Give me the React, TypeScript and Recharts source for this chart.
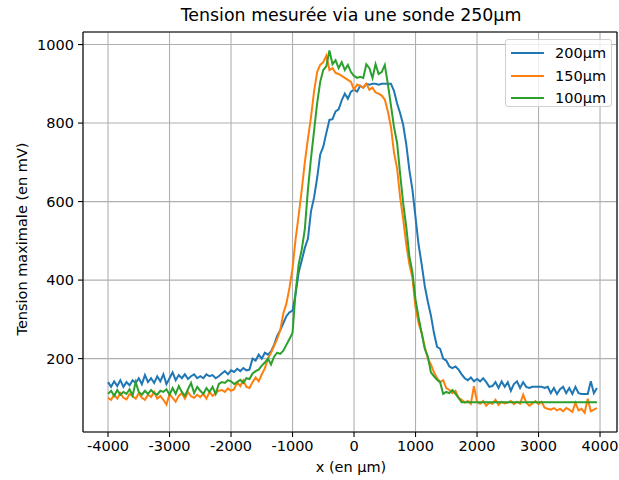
import React from 'react';
import { LineChart, Line, XAxis, YAxis, CartesianGrid, ReferenceLine } from 'recharts';

// positions (µm)
const POSITIONS = [
  -4000, -3950, -3900, -3850, -3800, -3750, -3700, -3650, -3600, -3550,
  -3500, -3450, -3400, -3350, -3300, -3250, -3200, -3150, -3100, -3050,
  -3000, -2950, -2900, -2850, -2800, -2750, -2700, -2650, -2600, -2550,
  -2500, -2450, -2400, -2350, -2300, -2250, -2200, -2150, -2100, -2050,
  -2000, -1950, -1900, -1850, -1800, -1750, -1700, -1650, -1600, -1550,
  -1500, -1450, -1400, -1350, -1300, -1250, -1200, -1150, -1100, -1050,
  -1000, -950, -900, -850, -800, -750, -700, -650, -600, -550,
  -500, -450, -400, -350, -300, -250, -200, -150, -100, -50,
  0, 50, 100, 150, 200, 250, 300, 350, 400, 450,
  500, 550, 600, 650, 700, 750, 800, 850, 900, 950,
  1000, 1050, 1100, 1150, 1200, 1250, 1300, 1350, 1400, 1450,
  1500, 1550, 1600, 1650, 1700, 1750, 1800, 1850, 1900, 1950,
  2000, 2050, 2100, 2150, 2200, 2250, 2300, 2350, 2400, 2450,
  2500, 2550, 2600, 2650, 2700, 2750, 2800, 2850, 2900, 2950,
  3000, 3050, 3100, 3150, 3200, 3250, 3300, 3350, 3400, 3450,
  3500, 3550, 3600, 3650, 3700, 3750, 3800, 3850, 3900, 3950,
];

const SONDE_200 = [
  140, 128, 142, 130, 145, 128, 140, 132, 145, 138,
  150, 135, 158, 140, 150, 138, 155, 142, 160, 135,
  150, 165, 145, 158, 150, 160, 148, 155, 160, 150,
  155, 150, 160, 155, 158, 150, 155, 162, 168, 160,
  170, 166, 174, 168, 176, 170, 172, 200, 195, 210,
  200, 215, 210, 218, 235, 258, 272, 290, 308, 318,
  322, 365, 420, 450, 482, 505, 575, 610, 660, 720,
  740, 775, 808, 810, 830, 835, 858, 875, 862, 880,
  885, 880, 895, 890, 900, 898, 900, 900, 898, 900,
  900, 900, 900, 882, 850, 825, 795, 745, 680, 630,
  560, 490, 440, 385, 345, 310, 265, 230, 225, 200,
  195, 180, 176, 180, 172, 160, 150, 145, 152, 142,
  148, 142, 150, 140, 128, 130, 140, 125, 142, 128,
  140, 118, 135, 142, 125, 140, 128, 125, 128, 128,
  128, 128, 125, 128, 112, 125, 110, 122, 128, 112,
  125, 110, 128, 112, 110, 110, 110, 142, 112, 125,
];

const SONDE_150 = [
  100, 95, 108, 98, 112, 100, 96, 110, 104, 98,
  112, 100, 95, 108, 102, 115, 98, 105, 95, 83,
  110, 100, 90, 105, 112, 98, 115, 104, 100, 108,
  102, 110, 98, 115, 105, 112, 118, 120, 115, 124,
  118, 122, 140, 130, 145, 128, 125, 140, 152, 142,
  160, 175, 200, 215, 232, 250, 272, 315, 340, 380,
  430, 505, 565, 630, 700, 760, 815, 880, 930, 948,
  955, 972, 935, 940, 928, 925, 920, 915, 910, 905,
  885, 898, 895, 890, 900, 885, 890, 878, 875, 870,
  860, 830, 790, 725, 685, 610, 555, 490, 440, 405,
  330, 290, 265, 230, 200, 185, 165, 150, 140, 145,
  125, 120, 112, 118, 100, 95, 88, 92, 85, 130,
  90, 85, 92, 80, 88, 85, 95, 82, 90, 86,
  88, 92, 84, 90, 85, 108, 88, 80, 86, 92,
  84, 90, 75, 72, 70, 74, 68, 72, 66, 74,
  70, 64, 87, 68, 72, 62, 98, 66, 70, 74,
];

const SONDE_100 = [
  110, 118, 105, 120, 108, 115, 110, 122, 106, 140,
  115, 108, 118, 110, 120, 112, 108, 118, 115, 122,
  108, 125, 110, 130, 115, 105, 122, 138, 112, 128,
  118, 110, 125, 115, 128, 110, 135, 140, 138, 145,
  142, 135, 140, 146, 138, 150, 148, 162, 168, 172,
  182, 190, 200, 185, 205, 215, 212, 220, 235, 250,
  265, 370, 440, 478, 530, 630, 710, 780, 850, 905,
  935, 945, 985, 950, 960, 940, 955, 935, 948, 930,
  920, 915, 918, 915, 950, 940, 915, 950, 925, 930,
  948, 900, 845, 790, 750, 670, 595, 535, 460, 420,
  350, 305, 265, 225, 205, 165, 155, 146, 140, 110,
  115, 112, 120, 110, 100, 89, 89, 89, 89, 89,
  89, 89, 89, 89, 89, 89, 89, 89, 89, 89,
  89, 89, 89, 89, 89, 89, 89, 89, 89, 89,
  89, 89, 89, 89, 89, 89, 89, 89, 89, 89,
  89, 89, 89, 89, 89, 89, 89, 89, 89, 89,
];

const X_TICKS = [-4000, -3000, -2000, -1000, 0, 1000, 2000, 3000, 4000];
const Y_TICKS = [200, 400, 600, 800, 1000];

const SERIES = [
  { key: 's200', name: '200µm', color: '#1f77b4' },
  { key: 's150', name: '150µm', color: '#ff7f0e' },
  { key: 's100', name: '100µm', color: '#2ca02c' },
];

const data = POSITIONS.map((x, i) => ({
  x,
  s200: SONDE_200[i],
  s150: SONDE_150[i],
  s100: SONDE_100[i],
}));

const X_DOMAIN: [number, number] = [-4407, 4276];
const Y_DOMAIN: [number, number] = [13, 1032];
const FONT = '"DejaVu Sans", sans-serif';
const FS = 14.5;

export default function App() {
  const tick = { fill: '#000', fontSize: FS, fontFamily: FONT };
  return (
    <div style={{ position: 'absolute', left: 0, top: 0, width: 619, height: 480, background: '#fff', fontFamily: FONT }}>
      <LineChart width={619} height={480} data={data} margin={{ top: 32, right: 2, left: 0, bottom: 0 }}>
        <CartesianGrid stroke="#b0b0b0" strokeWidth={1.1} />
        <XAxis
          dataKey="x"
          type="number"
          domain={X_DOMAIN}
          ticks={X_TICKS}
          allowDataOverflow
          height={48}
          tick={tick}
          tickSize={5}
          tickMargin={4}
          axisLine={{ stroke: '#000', strokeWidth: 1.1 }}
          tickLine={{ stroke: '#000', strokeWidth: 1.1 }}
        />
        <YAxis
          type="number"
          domain={Y_DOMAIN}
          ticks={Y_TICKS}
          allowDataOverflow
          width={83}
          tick={tick}
          tickSize={5}
          tickMargin={4}
          axisLine={{ stroke: '#000', strokeWidth: 1.1 }}
          tickLine={{ stroke: '#000', strokeWidth: 1.1 }}
        />
        {SERIES.map((s) => (
          <Line
            key={s.key}
            dataKey={s.key}
            name={s.name}
            stroke={s.color}
            strokeWidth={2}
            dot={false}
            type="linear"
            isAnimationActive={false}
          />
        ))}
        <ReferenceLine y={Y_DOMAIN[1]} stroke="#000" strokeWidth={1.1} />
        <ReferenceLine x={X_DOMAIN[1]} stroke="#000" strokeWidth={1.1} />
      </LineChart>

      <div style={{ position: 'absolute', left: 0, width: 702, top: 5, textAlign: 'center', fontSize: 17.4, color: '#000' }}>
        Tension mesurée via une sonde 250µm
      </div>
      <div style={{ position: 'absolute', left: 0, width: 702, top: 459, textAlign: 'center', fontSize: FS, color: '#000' }}>
        x (en µm)
      </div>
      <div
        style={{
          position: 'absolute',
          left: 22,
          top: 239,
          transform: 'translate(-50%, -50%) rotate(-90deg)',
          whiteSpace: 'nowrap',
          fontSize: FS,
          color: '#000',
        }}
      >
        Tension maximale (en mV)
      </div>

      <div
        style={{
          position: 'absolute',
          left: 505,
          top: 39,
          width: 107,
          height: 68,
          border: '1px solid #d0d0d0',
          borderRadius: 3,
          background: 'rgba(255,255,255,0.8)',
          boxSizing: 'border-box',
          paddingTop: 2,
        }}
      >
        {SERIES.map((s) => (
          <div key={s.key} style={{ display: 'flex', alignItems: 'center', height: 22.5, fontSize: FS }}>
            <span style={{ display: 'inline-block', width: 33, height: 2, background: s.color, marginLeft: 5, marginRight: 11 }} />
            <span>{s.name}</span>
          </div>
        ))}
      </div>
    </div>
  );
}
